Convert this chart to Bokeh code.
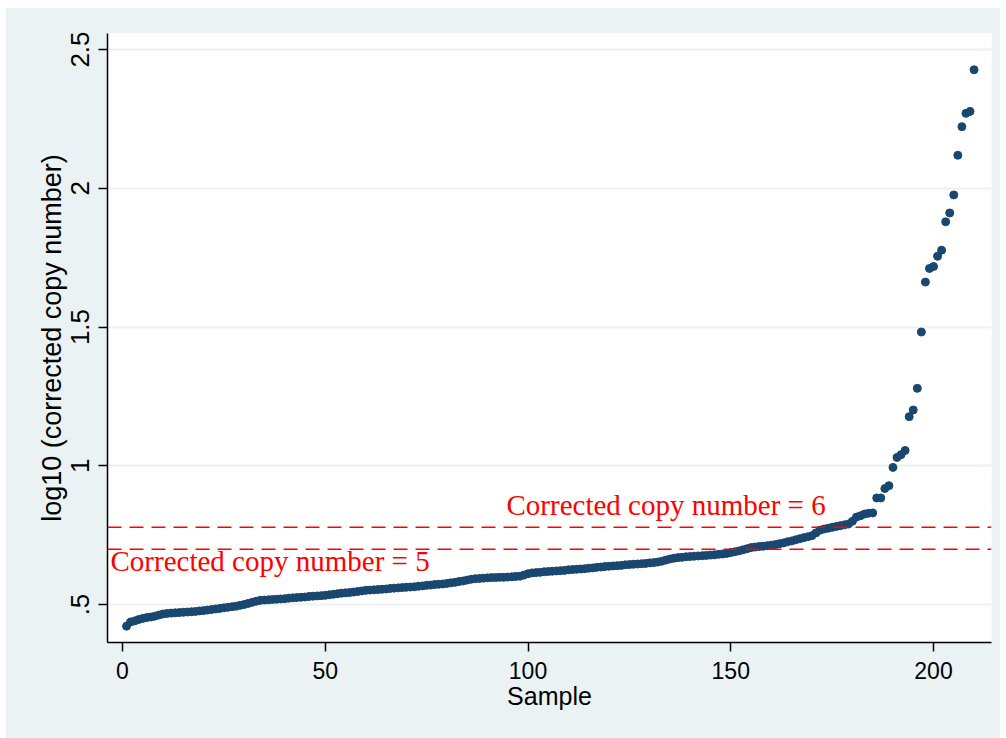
import math
from bokeh.plotting import figure
from bokeh.models import Range1d, Span, FixedTicker, Label
from bokeh.embed import file_html
from bokeh.resources import INLINE

# ---------------- data ----------------
sample = list(range(1, 211))
log_copy = [
    0.422, 0.437, 0.441, 0.446, 0.450, 0.453, 0.455, 0.458, 0.462, 0.466,
    0.468, 0.469, 0.470, 0.471, 0.472, 0.473, 0.474, 0.475, 0.477, 0.478,
    0.480, 0.482, 0.484, 0.486, 0.488, 0.490, 0.492, 0.494, 0.497, 0.500,
    0.504, 0.508, 0.512, 0.515, 0.516, 0.517, 0.518, 0.519, 0.520, 0.521,
    0.523, 0.524, 0.525, 0.526, 0.527, 0.529, 0.530, 0.531, 0.532, 0.533,
    0.535, 0.537, 0.539, 0.541, 0.542, 0.543, 0.545, 0.547, 0.549, 0.551,
    0.552, 0.553, 0.554, 0.555, 0.556, 0.558, 0.559, 0.560, 0.561, 0.562,
    0.563, 0.564, 0.566, 0.567, 0.569, 0.570, 0.572, 0.573, 0.574, 0.576,
    0.578, 0.580, 0.583, 0.585, 0.588, 0.591, 0.593, 0.594, 0.595, 0.596,
    0.597, 0.597, 0.598, 0.598, 0.599, 0.600, 0.601, 0.602, 0.606, 0.611,
    0.614, 0.615, 0.616, 0.618, 0.619, 0.620, 0.621, 0.622, 0.623, 0.625,
    0.626, 0.627, 0.628, 0.629, 0.631, 0.632, 0.634, 0.635, 0.637, 0.638,
    0.639, 0.640, 0.641, 0.643, 0.644, 0.645, 0.646, 0.647, 0.648, 0.650,
    0.651, 0.653, 0.656, 0.660, 0.664, 0.667, 0.669, 0.670, 0.672, 0.673,
    0.674, 0.675, 0.676, 0.677, 0.678, 0.679, 0.681, 0.682, 0.684, 0.687,
    0.690, 0.693, 0.697, 0.701, 0.705, 0.707, 0.709, 0.710, 0.712, 0.714,
    0.716, 0.719, 0.722, 0.726, 0.729, 0.733, 0.737, 0.741, 0.744, 0.748,
    0.758, 0.768, 0.772, 0.775, 0.778, 0.781, 0.784, 0.787, 0.790, 0.800,
    0.815, 0.820, 0.826, 0.829, 0.830, 0.884, 0.884, 0.918, 0.928, 0.994,
    1.030, 1.040, 1.055, 1.177, 1.201, 1.279, 1.482, 1.662, 1.711, 1.718,
    1.755, 1.777, 1.879, 1.911, 1.976, 2.119, 2.222, 2.270, 2.277, 2.427,
]
threshold_copy_numbers = [5, 6]
threshold_labels = ["Corrected copy number = 5", "Corrected copy number = 6"]
label_x = [-2.96, 94.7]
label_y = [0.656, 0.858]
x_ticks = [0, 50, 100, 150, 200]
y_ticks = [0.5, 1, 1.5, 2, 2.5]
y_tick_labels = [".5", "1", "1.5", "2", "2.5"]

# ---------------- styling ----------------
BG = "#EAF2F3"
NAVY = "#1A476F"
SANS = "Liberation Sans"
SERIF = "Liberation Serif"

p = figure(
    width=995, height=731,
    output_backend="svg", toolbar_location=None,
    x_range=Range1d(-3.70, 214.3), y_range=Range1d(0.3631, 2.5577),
    min_border_left=102, min_border_right=9, min_border_top=26, min_border_bottom=96,
)
p.margin = (7, 6, 0, 5)
p.border_fill_color = BG
p.background_fill_color = "white"
p.outline_line_color = None

p.scatter(sample, log_copy, size=8, color=NAVY, line_color=NAVY)

for cn in threshold_copy_numbers:
    p.add_layout(Span(location=math.log10(cn), dimension="width",
                      line_color="#FF0000", line_dash="14 8", line_width=1.5))

for t, lx, ly in zip(threshold_labels, label_x, label_y):
    p.add_layout(Label(x=lx, y=ly, text=t, text_font=SERIF, text_font_size="29px",
                       text_color="#FF0000", text_align="left", text_baseline="alphabetic"))

# grids
p.xgrid.visible = False
p.ygrid.ticker = FixedTicker(ticks=y_ticks)
p.ygrid.grid_line_color = BG
p.ygrid.grid_line_width = 2

# axes
p.xaxis.ticker = FixedTicker(ticks=x_ticks)
p.yaxis.ticker = FixedTicker(ticks=y_ticks)
p.yaxis.major_label_overrides = {t: l for t, l in zip(y_ticks, y_tick_labels)}
p.yaxis.major_label_orientation = "vertical"
p.xaxis.axis_label = "Sample"
p.yaxis.axis_label = "log10 (corrected copy number)"

for ax in (p.xaxis, p.yaxis):
    ax.axis_line_color = "black"
    ax.axis_line_width = 1.5
    ax.major_tick_line_color = "black"
    ax.major_tick_line_width = 1.5
    ax.major_tick_out = 9
    ax.major_tick_in = 0
    ax.minor_tick_line_color = None
    ax.major_label_text_font = SANS
    ax.major_label_text_color = "black"
    ax.axis_label_text_font = SANS
    ax.axis_label_text_font_style = "normal"
    ax.axis_label_text_color = "black"

p.xaxis.major_label_text_font_size = "23px"
p.xaxis.axis_label_text_font_size = "25px"
p.yaxis.major_label_text_font_size = "26px"
p.yaxis.axis_label_text_font_size = "27px"

p.xaxis.major_label_standoff = 10
p.xaxis.axis_label_standoff = 0
p.yaxis.major_label_standoff = 9
p.yaxis.axis_label_standoff = 2

open("out.html", "w").write(file_html(p, INLINE))
